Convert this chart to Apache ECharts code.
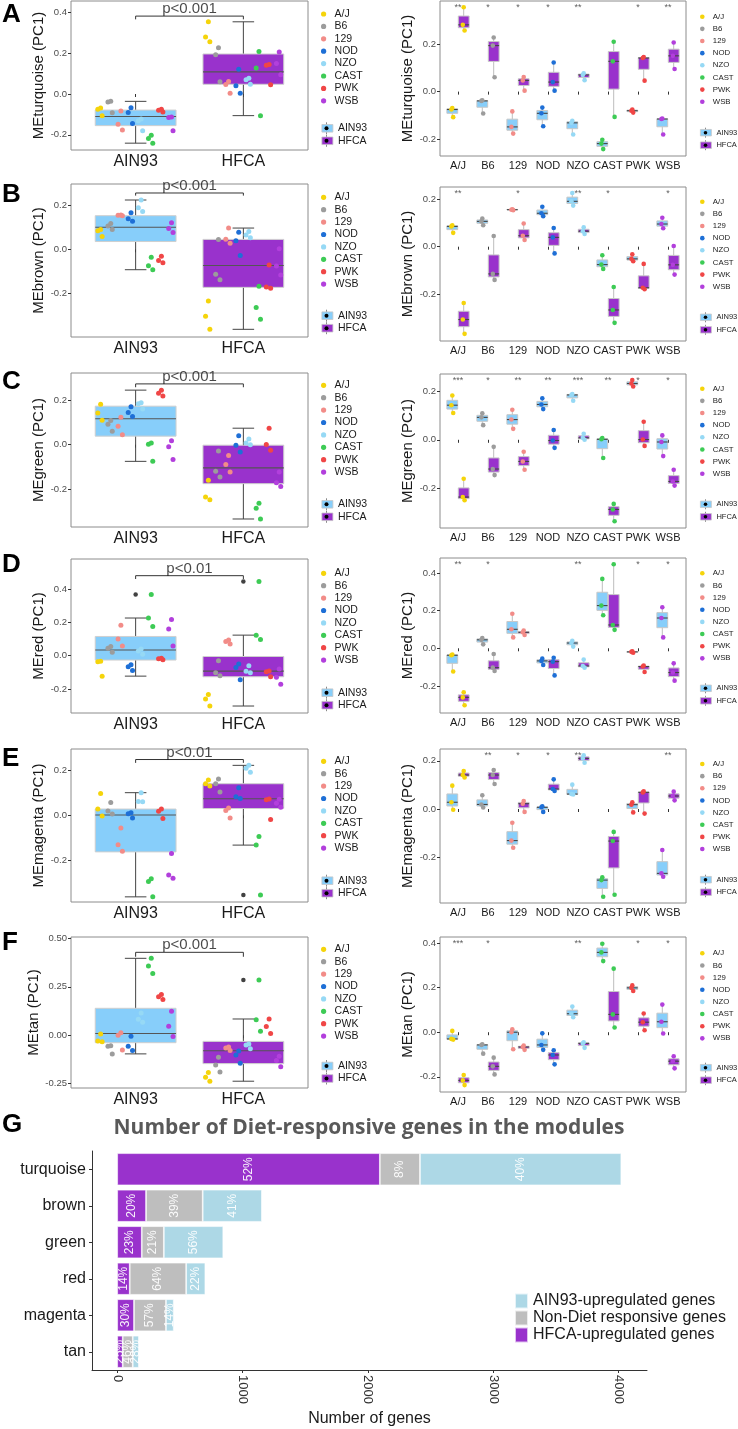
<!DOCTYPE html>
<html><head><meta charset="utf-8">
<script src="https://cdn.jsdelivr.net/npm/echarts@6/dist/echarts.min.js"></script>
<style>html,body{margin:0;padding:0;background:#fff}#c{width:738px;height:1429px}</style>
</head><body><div id="c"></div>
<script>
// ---------------- DATA ----------------
const strains = ['A/J','B6','129','NOD','NZO','CAST','PWK','WSB'];
const diets = ['AIN93','HFCA'];
const moduleNames = ['turquoise','brown','green','red','magenta','tan'];
const pValueLabels = ['p<0.001','p<0.001','p<0.001','p<0.01','p<0.01','p<0.001'];
const bracketY = [0.382, 0.257, 0.273, 0.482, 0.249, 0.428];
const bracketTickY = [0.366, 0.245, 0.258, 0.462, 0.234, 0.405];

// module eigengene values, per strain (3 mice each)
const turquoiseAIN93 = [[-0.107,-0.075,-0.069],[-0.092,-0.039,-0.036],[-0.176,-0.148,-0.083],[-0.145,-0.091,-0.067],[-0.180,-0.131,-0.122],[-0.241,-0.218,-0.202],[-0.088,-0.080,-0.075],[-0.180,-0.115,-0.113]];
const turquoiseHFCA = [[0.256,0.280,0.354],[0.060,0.193,0.227],[0.004,0.047,0.061],[0.004,0.040,0.122],[0.048,0.070,0.077],[-0.106,0.127,0.209],[0.046,0.141,0.145],[0.095,0.150,0.206]];
const brownAIN93 = [[0.058,0.085,0.090],[0.090,0.106,0.118],[0.153,0.155,0.157],[0.128,0.140,0.167],[0.172,0.190,0.225],[-0.093,-0.075,-0.036],[-0.061,-0.051,-0.032],[0.077,0.095,0.121]];
const brownHFCA = [[-0.365,-0.305,-0.236],[-0.139,-0.114,0.045],[0.028,0.046,0.097],[-0.028,0.039,0.078],[0.053,0.065,0.081],[-0.319,-0.265,-0.169],[-0.178,-0.172,-0.072],[-0.117,-0.076,0.003]];
const greenAIN93 = [[0.110,0.142,0.182],[0.060,0.092,0.109],[0.045,0.083,0.123],[0.126,0.145,0.170],[0.160,0.184,0.188],[-0.075,0.002,0.007],[0.219,0.231,0.245],[-0.067,-0.009,0.018]];
const greenHFCA = [[-0.248,-0.235,-0.160],[-0.145,-0.120,-0.029],[-0.123,-0.089,-0.049],[-0.033,-0.003,0.040],[0.000,0.008,0.025],[-0.334,-0.286,-0.263],[-0.025,0.001,0.074],[-0.188,-0.171,-0.123]];
const redAIN93 = [[-0.123,-0.037,-0.033],[0.021,0.045,0.055],[0.058,0.101,0.184],[-0.089,-0.067,-0.055],[0.009,0.028,0.040],[0.176,0.227,0.369],[-0.024,-0.019,-0.016],[0.058,0.161,0.218]];
const redHFCA = [[-0.303,-0.261,-0.234],[-0.121,-0.103,-0.030],[0.071,0.085,0.094],[-0.144,-0.071,-0.050],[-0.103,-0.094,-0.060],[0.098,0.124,0.447],[-0.126,-0.097,-0.092],[-0.172,-0.129,-0.080]];
const magentaAIN93 = [[-0.003,0.028,0.097],[0.006,0.019,0.057],[-0.161,-0.131,-0.057],[-0.012,0.007,0.011],[0.060,0.062,0.101],[-0.364,-0.295,-0.283],[-0.014,0.018,0.028],[-0.281,-0.267,-0.170]];
const magentaHFCA = [[0.131,0.141,0.158],[0.104,0.141,0.162],[-0.012,0.022,0.033],[0.075,0.083,0.123],[0.192,0.210,0.223],[-0.356,-0.133,-0.095],[-0.019,0.069,0.073],[0.036,0.054,0.072]];
const tanAIN93 = [[-0.033,-0.030,0.006],[-0.096,-0.057,-0.054],[-0.076,0.000,0.013],[-0.079,-0.057,-0.005],[0.067,0.083,0.115],[0.319,0.358,0.397],[0.185,0.199,0.210],[-0.006,0.047,0.124]];
const tanHFCA = [[-0.237,-0.216,-0.192],[-0.189,-0.153,-0.114],[-0.079,-0.066,-0.060],[-0.144,-0.102,-0.081],[-0.070,-0.050,-0.045],[0.021,0.080,0.285],[0.009,0.045,0.084],[-0.162,-0.130,-0.108]];

const turquoiseStars = ['**','*','*','*','**','','*','**'];
const brownStars = ['**','','*','','**','*','','*'];
const greenStars = ['***','*','**','**','***','**','*','*'];
const redStars = ['**','*','','','**','','*','*'];
const magentaStars = ['','**','*','*','**','','','**'];
const tanStars = ['***','*','','','**','','*','*'];

const leftYTicks = [[-0.2,0,0.2,0.4],[-0.2,0,0.2],[-0.2,0,0.2],[-0.2,0,0.2,0.4],[-0.2,0,0.2],[-0.25,0,0.25,0.5]];
const rightYTicks = [[-0.2,0,0.2],[-0.2,0,0.2],[-0.2,0,0.2],[-0.2,0,0.2,0.4],[-0.2,0,0.2],[-0.2,0,0.2,0.4]];

// panel G
const barModules = ['turquoise','brown','green','red','magenta','tan'];
const hfcaUpGenes = [2095,230,196,100,134,44];
const nonDietGenes = [320,452,176,450,255,80];
const ain93UpGenes = [1606,472,474,153,62,49];
const barXTicks = [0,1000,2000,3000,4000];

// ---------------- LAYOUT / STYLE ----------------
const FONT = 'Liberation Sans, Arial, Helvetica, sans-serif';
const strainColors = ['#F5D40A','#9C9C9C','#F28C88','#1E6FD6','#96D9F5','#3DCB55','#F04646','#B23FDC'];
const dietFill = ['#87CEFA','#9932CC'];
const leftTop = [1,184,373,559,749,937], leftH = [149,153,154,154,153,151];
const rightTop = [1,187,374,558,749,937], rightH = [155,154,154,155,154,155];
const leftRange = [[-0.2745,0.456],[-0.4,0.298],[-0.37,0.322],[-0.345,0.5825],[-0.387,0.296],[-0.272,0.507]];
const rightRange = [[-0.27,0.38],[-0.395,0.25],[-0.362,0.27],[-0.344,0.48],[-0.39,0.249],[-0.268,0.427]];
const leftLegendY = [14,197.3,385.3,573.3,761.3,949.3], leftKeyY = [128.3,315.7,504.3,692.7,880.7,1066];
const rightLegendY = [16.7,201.7,388.7,573.3,764,953.3], rightKeyY = [132.7,317.3,504.3,688.3,879.7,1067.7];
const letterTop = [2,182,369,552,746,930,1112];

const moduleValues = [[turquoiseAIN93,turquoiseHFCA],[brownAIN93,brownHFCA],[greenAIN93,greenHFCA],[redAIN93,redHFCA],[magentaAIN93,magentaHFCA],[tanAIN93,tanHFCA]];
const moduleStars = [turquoiseStars,brownStars,greenStars,redStars,magentaStars,tanStars];

function quantile(s,p){const h=(s.length-1)*p;const lo=Math.floor(h);const hi=Math.min(lo+1,s.length-1);return s[lo]+(h-lo)*(s[hi]-s[lo]);}
function boxStats(vals){
  const s=[...vals].sort((a,b)=>a-b);
  const q1=quantile(s,.25), md=quantile(s,.5), q3=quantile(s,.75), iqr=q3-q1;
  const lf=q1-1.5*iqr, hf=q3+1.5*iqr;
  const ins=s.filter(v=>v>=lf&&v<=hf);
  return {stats:[ins[0],q1,md,q3,ins[ins.length-1]], outliers:s.filter(v=>v<lf||v>hf)};
}
function makeBoxRenderer(cfg){
  return function(params, api){
    const x=api.value(0), lo=api.value(1), q1=api.value(2), md=api.value(3), q3=api.value(4), hi=api.value(5);
    const hw=cfg.width/2, cw=cfg.cap/2;
    const a=api.coord([x,lo]), b=api.coord([x,hi]);
    const tl=api.coord([x-hw,q3]), br=api.coord([x+hw,q1]);
    const ml=api.coord([x-hw,md]), mr=api.coord([x+hw,md]);
    const ch=[{type:'line',shape:{x1:a[0],y1:a[1],x2:b[0],y2:b[1]},style:{stroke:cfg.whisker,lineWidth:1}}];
    if(cfg.cap){
      const c1=api.coord([x-cw,lo]), c2=api.coord([x+cw,lo]), c3=api.coord([x-cw,hi]), c4=api.coord([x+cw,hi]);
      ch.push({type:'line',shape:{x1:c1[0],y1:c1[1],x2:c2[0],y2:c2[1]},style:{stroke:cfg.whisker,lineWidth:1}});
      ch.push({type:'line',shape:{x1:c3[0],y1:c3[1],x2:c4[0],y2:c4[1]},style:{stroke:cfg.whisker,lineWidth:1}});
    }
    ch.push({type:'rect',shape:{x:tl[0],y:tl[1],width:br[0]-tl[0],height:br[1]-tl[1]},style:{fill:cfg.fill,stroke:cfg.border,lineWidth:1}});
    ch.push({type:'line',shape:{x1:ml[0],y1:ml[1],x2:mr[0],y2:mr[1]},style:{stroke:cfg.median,lineWidth:1.1}});
    return {type:'group',children:ch};
  };
}

const grids=[], xAxes=[], yAxes=[], series=[], legends=[], graphics=[], titles=[];
const jitL=[0.018,-0.022,0.004], jitR=[0.03,-0.03,0.0];

for(let r=0;r<6;r++){
  const gL=2*r, gR=2*r+1;
  const yName='ME'+moduleNames[r]+' (PC1)';
  const dec = r===5?2:1;
  grids.push({left:71,top:leftTop[r],width:237,height:leftH[r],show:true,borderColor:'#8c8c8c',borderWidth:1,backgroundColor:'#fff'});
  xAxes.push({gridIndex:gL,type:'value',min:0.4,max:2.6,splitLine:{show:false},axisLine:{show:false},
    axisTick:{show:true,customValues:[1,2],length:3,lineStyle:{color:'#333'}},
    axisLabel:{customValues:[1,2],formatter:v=>diets[Math.round(v)-1],fontSize:16,color:'#1a1a1a',margin:4,fontFamily:FONT}});
  yAxes.push({gridIndex:gL,type:'value',min:leftRange[r][0],max:leftRange[r][1],splitLine:{show:false},axisLine:{show:false},
    axisTick:{show:true,customValues:leftYTicks[r],length:3,lineStyle:{color:'#333'}},
    axisLabel:{customValues:leftYTicks[r],formatter:v=>v.toFixed(dec),fontSize:9.5,color:'#4d4d4d',margin:4,fontFamily:FONT},
    name:yName,nameLocation:'middle',nameGap:22,nameTextStyle:{fontSize:15,color:'#1a1a1a',fontFamily:FONT}});
  grids.push({left:440,top:rightTop[r],width:246,height:rightH[r],show:true,borderColor:'#8c8c8c',borderWidth:1,backgroundColor:'#fff'});
  const sx=strains.map((s,i)=>i+1);
  xAxes.push({gridIndex:gR,type:'value',min:0.4,max:8.6,splitLine:{show:false},axisLine:{show:false},
    axisTick:{show:true,customValues:sx,length:3,lineStyle:{color:'#333'}},
    axisLabel:{customValues:sx,formatter:v=>strains[Math.round(v)-1],fontSize:11,color:'#1a1a1a',margin:4,fontFamily:FONT}});
  yAxes.push({gridIndex:gR,type:'value',min:rightRange[r][0],max:rightRange[r][1],splitLine:{show:false},axisLine:{show:false},
    axisTick:{show:true,customValues:rightYTicks[r],length:3,lineStyle:{color:'#333'}},
    axisLabel:{customValues:rightYTicks[r],formatter:v=>v.toFixed(1),fontSize:9.5,color:'#4d4d4d',margin:4,fontFamily:FONT},
    name:yName,nameLocation:'middle',nameGap:20,nameTextStyle:{fontSize:15,color:'#1a1a1a',fontFamily:FONT}});

  for(let d=0;d<2;d++){
    const all=[].concat(...moduleValues[r][d]);
    const bs=boxStats(all);
    series.push({type:'custom',name:diets[d],xAxisIndex:gL,yAxisIndex:gL,silent:true,z:2,
      itemStyle:{color:dietFill[d]},encode:{x:0,y:[1,2,3,4,5]},
      renderItem:makeBoxRenderer({width:0.75,cap:0.2,fill:dietFill[d],border:'#cfcfcf',whisker:'#444',median:'#555'}),
      data:[[d+1].concat(bs.stats)]});
    series.push({type:'scatter',name:'outlier',xAxisIndex:gL,yAxisIndex:gL,silent:true,z:3,symbolSize:4.5,
      itemStyle:{color:'#111'},data:bs.outliers.map(v=>[d+1,v])});
  }
  for(let d=0;d<2;d++){
    const off=d===0?-0.19:0.19;
    series.push({type:'custom',name:diets[d],xAxisIndex:gR,yAxisIndex:gR,silent:true,z:2,
      itemStyle:{color:dietFill[d]},encode:{x:0,y:[1,2,3,4,5]},
      renderItem:makeBoxRenderer({width:0.36,cap:0,fill:dietFill[d],border:'#c8c8c8',whisker:'#bdbdbd',median:'#444'}),
      data:strains.map((s,i)=>[i+1+off].concat(boxStats(moduleValues[r][d][i]).stats))});
  }
  strains.forEach((s,i)=>{
    const dl=[], dr=[];
    for(let d=0;d<2;d++){
      moduleValues[r][d][i].forEach((v,k)=>{
        dl.push([d+1+(i-3.5)*0.094+jitL[k], v]);
        dr.push([i+1+(d===0?-0.19:0.19)+jitR[k], v]);
      });
    }
    series.push({type:'scatter',name:s,xAxisIndex:gL,yAxisIndex:gL,silent:true,z:4,symbolSize:5,itemStyle:{color:strainColors[i],opacity:1},data:dl});
    series.push({type:'scatter',name:s,xAxisIndex:gR,yAxisIndex:gR,silent:true,z:4,symbolSize:4.6,itemStyle:{color:strainColors[i],opacity:1},data:dr});
  });
  series.push({type:'line',name:'bracket',xAxisIndex:gL,yAxisIndex:gL,silent:true,z:5,symbol:'none',
    lineStyle:{color:'#333',width:1},data:[[1,bracketTickY[r]],[1,bracketY[r]],[2,bracketY[r]],[2,bracketTickY[r]]]});
  series.push({type:'scatter',name:'pval',xAxisIndex:gL,yAxisIndex:gL,silent:true,z:6,symbolSize:1,itemStyle:{color:'rgba(0,0,0,0)'},
    label:{show:true,position:'top',distance:-1,formatter:pValueLabels[r],fontSize:15,color:'#1a1a1a',fontFamily:FONT},
    data:[[1.5,bracketY[r]]]});
  const rr=rightRange[r], yStar=rr[1]-(rr[1]-rr[0])*6.5/rightH[r];
  series.push({type:'scatter',name:'stars',xAxisIndex:gR,yAxisIndex:gR,silent:true,z:6,symbolSize:1,itemStyle:{color:'rgba(0,0,0,0)'},
    label:{show:true,position:'inside',formatter:'{b}',fontSize:9,color:'#333',fontFamily:FONT},
    data:moduleStars[r].map((st,i)=>({name:st,value:[i+1,yStar]})).filter(o=>o.name)});

  legends.push({data:strains,orient:'vertical',left:321,top:leftLegendY[r]-6.2,padding:0,itemGap:0,itemWidth:12,itemHeight:5.2,icon:'circle',
    textStyle:{fontSize:10.5,lineHeight:12.4,color:'#1a1a1a',fontFamily:FONT},selectedMode:false});
  legends.push({data:diets,orient:'vertical',left:321.5,top:leftKeyY[r]-6.25,padding:0,itemGap:0,itemWidth:11,itemHeight:7.6,icon:'rect',
    itemStyle:{borderColor:'#c8c8c8',borderWidth:0.8},
    textStyle:{fontSize:10.5,lineHeight:12.5,color:'#1a1a1a',fontFamily:FONT},selectedMode:false});
  legends.push({data:strains,orient:'vertical',left:700,top:rightLegendY[r]-6.1,padding:0,itemGap:0,itemWidth:11,itemHeight:4.6,icon:'circle',
    textStyle:{fontSize:7.8,lineHeight:12.15,color:'#1a1a1a',fontFamily:FONT},selectedMode:false});
  legends.push({data:diets,orient:'vertical',left:700,top:rightKeyY[r]-6.25,padding:0,itemGap:0,itemWidth:11,itemHeight:6.5,icon:'rect',
    itemStyle:{borderColor:'#c8c8c8',borderWidth:0.8},
    textStyle:{fontSize:7.5,lineHeight:12.5,color:'#1a1a1a',fontFamily:FONT},selectedMode:false});
  [[326.5,leftKeyY[r],6,2],[705.5,rightKeyY[r],5,1.8]].forEach(([cx,cy,hl,rad])=>{
    for(let d=0;d<2;d++){
      const y=cy+d*12.5;
      graphics.push({type:'line',z:0,shape:{x1:cx,y1:y-hl,x2:cx,y2:y+hl},style:{stroke:'#888',lineWidth:1}});
      graphics.push({type:'circle',z:100,shape:{cx:cx,cy:y,r:rad},style:{fill:'#000'}});
    }
  });
}

['A','B','C','D','E','F','G'].forEach((t,i)=>titles.push({text:t,left:2,top:letterTop[i],padding:0,
  textStyle:{fontSize:26,fontWeight:'bold',color:'#000',fontFamily:FONT}}));
titles.push({text:'Number of Diet-responsive genes in the modules',left:'center',top:1118,padding:0,
  textStyle:{fontSize:21,fontWeight:'bold',color:'#595959',fontFamily:'Open Sans, sans-serif'}});

const gG=12;
const totals=barModules.map((m,i)=>hfcaUpGenes[i]+nonDietGenes[i]+ain93UpGenes[i]);
grids.push({left:92,top:1151,width:555,height:219,show:false});
xAxes.push({gridIndex:gG,type:'value',min:-201,max:4226,splitLine:{show:false},
  axisLine:{show:true,lineStyle:{color:'#333',width:1}},
  axisTick:{show:true,customValues:barXTicks,length:3,lineStyle:{color:'#333'}},
  axisLabel:{customValues:barXTicks,rotate:-90,fontSize:13,color:'#333',margin:5,fontFamily:FONT,formatter:v=>String(v)},
  name:'Number of genes',nameLocation:'middle',nameGap:41,nameTextStyle:{fontSize:16,color:'#1a1a1a',fontFamily:FONT}});
yAxes.push({gridIndex:gG,type:'category',data:barModules,inverse:true,
  axisLine:{show:true,onZero:false,lineStyle:{color:'#333',width:1}},
  axisTick:{show:true,alignWithLabel:true,length:3,lineStyle:{color:'#333'}},
  axisLabel:{fontSize:16,color:'#1a1a1a',margin:6,fontFamily:FONT}});
const barLabel={show:true,position:'inside',rotate:90,fontSize:12,color:'rgba(255,255,255,0.92)',fontFamily:FONT,
  formatter:p=>Math.round(p.value/totals[p.dataIndex]*100)+'%'};
[['HFCA-upregulated genes',hfcaUpGenes,'#9932CC'],['Non-Diet responsive genes',nonDietGenes,'#BEBEBE'],['AIN93-upregulated genes',ain93UpGenes,'#ADD8E6']]
 .forEach(([n,d,c])=>series.push({type:'bar',name:n,stack:'genes',xAxisIndex:gG,yAxisIndex:gG,barCategoryGap:'12%',silent:true,
   itemStyle:{color:c,borderColor:'rgba(255,255,255,0.7)',borderWidth:0.8},label:barLabel,data:d}));
legends.push({data:['AIN93-upregulated genes','Non-Diet responsive genes','HFCA-upregulated genes'],orient:'vertical',left:514,top:1292.5,
  padding:0,itemGap:0,itemWidth:13,itemHeight:15,icon:'rect',selectedMode:false,
  textStyle:{fontSize:16,lineHeight:15,color:'#1a1a1a',fontFamily:FONT}});

const chart=echarts.init(document.getElementById('c'));
chart.setOption({animation:false,backgroundColor:'#fff',title:titles,grid:grids,xAxis:xAxes,yAxis:yAxes,series:series,legend:legends,graphic:{elements:graphics}});
</script></body></html>
